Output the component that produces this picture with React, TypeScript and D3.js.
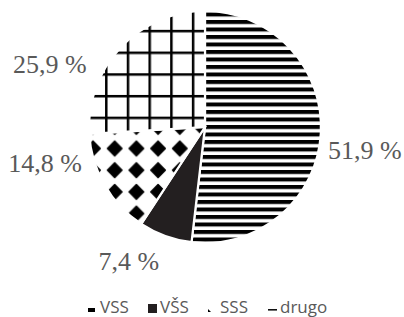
import React from "react";
import * as d3 from "d3";

const categories = ["VSS", "VŠS", "SSS", "drugo"];
const values = [14, 2, 4, 7];
const percentLabels = ["51,9 %", "7,4 %", "14,8 %", "25,9 %"];
const fills = ["url(#stripes)", "#231f20", "url(#diamonds)", "url(#grid)"];
// nudges from the label arc, the way Excel placed them
const labelNudge = [
  [10, 23],
  [-25, 2],
  [-30, -30],
  [-46, 49],
];

const width = 404;
const height = 317;
const cx = 205;
const cy = 127;
const radius = 116;

function LegendMarker({ i }: { i: number }) {
  // small pattern swatches as they render in the legend
  if (i === 0) return <rect x={0} y={3} width={7} height={4} fill="#000" />;
  if (i === 1) return <rect x={0} y={-1} width={9} height={9} fill="#231f20" />;
  if (i === 2) return <path d="M0,4 L3,7 L0,7 Z" fill="#000" />;
  return <rect x={0} y={4} width={9} height={1.6} fill="#111" />;
}

export default function App() {
  const pie = d3
    .pie<number>()
    .sort(null)
    .value((d) => d);
  const arcs = pie(values);

  const arc = d3.arc<d3.PieArcDatum<number>>().innerRadius(0).outerRadius(radius);
  const labelArc = d3.arc<d3.PieArcDatum<number>>().innerRadius(150).outerRadius(150);

  const legendX = d3.scalePoint<string>().domain(categories).range([88, 268]);

  return (
    <div style={{ position: "absolute", left: 0, top: 0 }}>
      <svg width={width} height={height} style={{ display: "block", background: "#fff" }}>
        <defs>
          <pattern id="stripes" patternUnits="userSpaceOnUse" width={8} height={7.5} y={5.5}>
            <rect width={8} height={7.5} fill="#fff" />
            <rect width={8} height={4} fill="#000" />
          </pattern>
          <pattern id="grid" patternUnits="userSpaceOnUse" width={21.7} height={21.7} x={117.05} y={54.75}>
            <rect width={21.7} height={21.7} fill="#fff" />
            <rect width={2.5} height={21.7} fill="#000" />
            <rect width={21.7} height={2.5} fill="#000" />
          </pattern>
          <pattern id="diamonds" patternUnits="userSpaceOnUse" width={21.7} height={21.7} x={115.85} y={140.85}>
            <rect width={21.7} height={21.7} fill="#fff" />
            <path
              d="M10.85,3.6 L18.1,10.85 L10.85,18.1 L3.6,10.85 Z"
              fill="#000"
              stroke="#000"
              strokeWidth={1.5}
              strokeLinejoin="round"
            />
          </pattern>
        </defs>

        <g transform={`translate(${cx},${cy})`}>
          {arcs.map((a, i) => (
            <path key={categories[i]} d={arc(a) || ""} fill={fills[i]} stroke="#fff" strokeWidth={2.2} />
          ))}
          {arcs.map((a, i) => {
            const [x, y] = labelArc.centroid(a);
            return (
              <text
                key={"l" + i}
                x={x + labelNudge[i][0]}
                y={y + labelNudge[i][1]}
                textAnchor="middle"
                fontFamily="Liberation Serif"
                fontSize={26}
                fill="#595959"
              >
                {percentLabels[i]}
              </text>
            );
          })}
        </g>

        <g fontFamily="Open Sans" fontSize={17} fill="#595959">
          {categories.map((c, i) => {
            const x = legendX(c) || 0;
            return (
              <g key={c} transform={`translate(${x},305)`}>
                <LegendMarker i={i} />
                <text x={12} y={7.5}>
                  {c}
                </text>
              </g>
            );
          })}
        </g>
      </svg>
    </div>
  );
}
